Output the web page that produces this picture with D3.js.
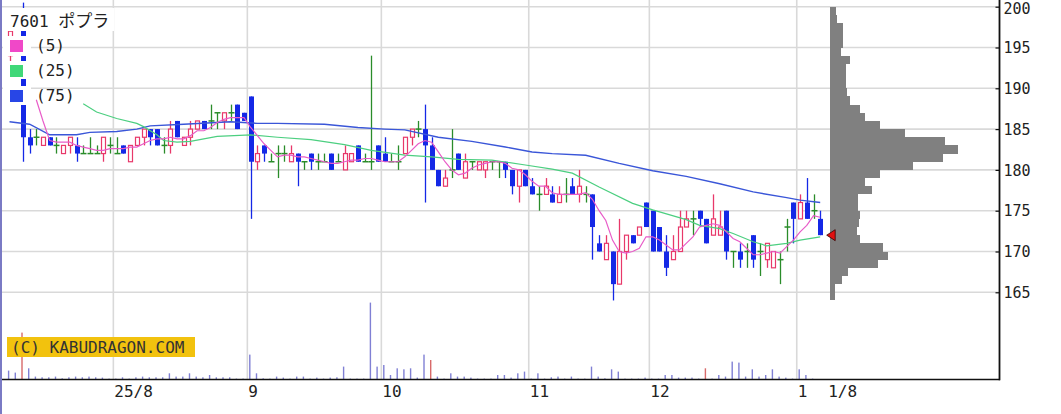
<!DOCTYPE html>
<html><head><meta charset="utf-8">
<script src="https://cdn.jsdelivr.net/npm/d3@7"></script>
<style>
html,body{margin:0;padding:0;background:#fff;}
svg{display:block;}
</style></head><body>
<svg id="chart" width="1061" height="414"></svg>
<script>
// ---------------- data ----------------
const dates = [
"2025-07-09","2025-07-10","2025-07-11","2025-07-14","2025-07-15","2025-07-16","2025-07-17","2025-07-18","2025-07-22","2025-07-23","2025-07-24","2025-07-25","2025-07-28","2025-07-29","2025-07-30","2025-07-31",
"2025-08-01","2025-08-04","2025-08-05","2025-08-06","2025-08-07","2025-08-08","2025-08-12","2025-08-13","2025-08-14","2025-08-15","2025-08-18","2025-08-19","2025-08-20","2025-08-21","2025-08-22","2025-08-25","2025-08-26","2025-08-27","2025-08-28","2025-08-29",
"2025-09-01","2025-09-02","2025-09-03","2025-09-04","2025-09-05","2025-09-08","2025-09-09","2025-09-10","2025-09-11","2025-09-12","2025-09-16","2025-09-17","2025-09-18","2025-09-19","2025-09-22","2025-09-24","2025-09-25","2025-09-26","2025-09-29","2025-09-30",
"2025-10-01","2025-10-02","2025-10-03","2025-10-06","2025-10-07","2025-10-08","2025-10-09","2025-10-10","2025-10-14","2025-10-15","2025-10-16","2025-10-17","2025-10-20","2025-10-21","2025-10-22","2025-10-23","2025-10-24","2025-10-27","2025-10-28","2025-10-29","2025-10-30","2025-10-31",
"2025-11-04","2025-11-05","2025-11-06","2025-11-07","2025-11-10","2025-11-11","2025-11-12","2025-11-13","2025-11-14","2025-11-17","2025-11-18","2025-11-19","2025-11-20","2025-11-21","2025-11-25","2025-11-26","2025-11-27","2025-11-28",
"2025-12-01","2025-12-02","2025-12-03","2025-12-04","2025-12-05","2025-12-08","2025-12-09","2025-12-10","2025-12-11","2025-12-12","2025-12-15","2025-12-16","2025-12-17","2025-12-18","2025-12-19","2025-12-22","2025-12-23","2025-12-24","2025-12-25","2025-12-26","2025-12-29","2025-12-30",
"2026-01-05","2026-01-06","2026-01-07","2026-01-08"];

const openP = [
194,196,198,184,184,183,184,183,182,183,183,182,182,182,182,183,
182,183,181,183,184,185,185,183,183,186,183,184,185,186,186,187,186,187,188,187,
189,181,183,181,182,182,181,182,181,182,181,181,182,181,180,181,183,181,181,183,
182,181,181,182,184,185,185,183,180,178,180,182,179,181,180,180,181,181,181,180,178,180,
178,177,177,177,176,177,178,177,177,177,171,169,170,166,170,172,172,176,
175,173,170,169,170,173,174,175,174,172,172,175,170,170,170,172,170,169,168,169,173,176,
174,176,175,174];
const highP = [
198,196,200.5,185,185,184,184,184,183,184,184,183,184,183,184,184,
184,183,183,184,185,185,185,184,186,186,184,186,186,186,188,187,187,188,188,187,
189,183,183,182,183,183,183,182,181,182,182,182,182,182,183,182,183,182,194,183,
184,182,183,184,185,186,188,184,180,180,185,182,182,181,181,181,181,181,181,180,180,180,
179,178,179,178,178,179,179,180,178,177,172,172,170,174,172,172,173,176,
175,173,172,172,175,175,175,175,174,177,175,175,170,171,171,172,171,171,170,170,174,176,
177,179,177,175];
const lowP = [
193,194,181,182,183,183,183,182,182,182,181,182,182,182,181,182,
182,182,181,183,183,183,183,182,182,184,183,183,185,185,185,185,185,186,185,186,
174,180,181,181,179,181,181,178,180,180,180,181,180,181,180,181,181,181,180,181,
181,181,180,182,183,184,176,180,178,178,179,180,179,180,180,179,180,179,179,177,176,178,
177,175,177,176,176,176,177,176,176,169,170,169,164,166,169,171,172,173,
170,170,167,169,170,173,172,173,171,172,172,169,168,168,168,168,167,168,168,166,170,171,
174,174,174,172];
const closeP = [
197,195,184,183,184,184,183,183,183,184,182,182,182,182,184,183,
182,182,183,184,185,184,183,183,185,184,184,185,186,185,186,187,187,187,185,186,
181,182,182,181,182,182,182,181,181,181,181,181,180,181,182,182,181,181,181,181,
181,181,181,184,185,185,183,180,178,179,180,180,181,181,181,181,181,181,180,178,180,178,
177,177,178,176,177,177,177,178,177,173,170,171,166,170,172,171,173,173,
170,170,168,170,173,174,174,174,171,174,173,170,170,169,170,169,170,171,170,169,173,174,
176,174,175,172];
const volume = [
87,67,467,110,27,20,20,27,10,20,27,20,27,20,17,7,
7,20,7,20,27,20,20,20,60,27,27,60,27,20,43,20,20,20,7,7,
247,60,10,7,27,17,7,27,27,7,17,7,17,20,127,7,7,7,767,127,
143,43,110,100,110,17,247,193,27,7,60,27,27,17,7,7,7,43,43,17,60,77,
7,60,7,20,27,7,27,7,7,127,27,10,100,77,7,7,7,17,
7,7,43,43,17,17,17,7,110,7,43,27,177,167,27,100,27,43,100,27,17,7,
100,43,7,3];
const volumeAlertDates = ["2025-07-11","2025-10-10","2025-12-11"];

// moving averages (25 and 75 day), 5 day computed from closes
const ma25Dates = ["2025-07-25","2025-07-29","2025-08-01","2025-08-06","2025-08-07","2025-08-12","2025-08-13","2025-08-15","2025-08-19","2025-08-25","2025-09-01","2025-09-05","2025-09-12","2025-09-22","2025-09-29","2025-10-06","2025-10-10","2025-10-17","2025-10-24","2025-10-31","2025-11-07","2025-11-12","2025-11-18","2025-11-26","2025-12-01","2025-12-08","2025-12-10","2025-12-15","2025-12-17","2025-12-22","2025-12-24","2025-12-29","2026-01-05","2026-01-08"];
const ma25Values = [188.1,187.1,186.3,185.7,185.3,184.3,183.6,183.4,183.5,184.1,184.3,184.0,183.7,183.1,182.4,181.8,181.6,181.3,181.2,180.6,180.1,179.6,177.9,175.9,175.1,173.9,173.2,172.8,172.2,171.2,170.7,171.0,171.4,171.8];
const ma75Dates = ["2025-07-09","2025-07-14","2025-07-17","2025-07-24","2025-07-28","2025-08-01","2025-08-06","2025-08-08","2025-08-18","2025-08-27","2025-09-02","2025-09-05","2025-09-17","2025-09-25","2025-10-01","2025-10-06","2025-10-14","2025-10-21","2025-10-28","2025-11-04","2025-11-07","2025-11-14","2025-11-21","2025-12-01","2025-12-08","2025-12-15","2025-12-22","2025-12-29","2026-01-05","2026-01-08"];
const ma75Values = [185.9,185.6,184.3,184.3,184.6,184.7,185.0,185.4,185.6,185.9,185.7,185.7,185.6,185.2,185.0,184.9,184.0,183.5,182.8,182.2,182.0,181.8,180.8,179.9,179.2,178.3,177.3,176.6,176.3,176.0];

// price-by-volume profile (1-yen bins, lower bound)
const profilePrice = [164,165,166,167,168,169,170,171,172,173,174,175,176,177,178,179,180,181,182,183,184,185,186,187,188,189,190,191,192,193,194,195,196,197,198,199];
const profileVol = [50,50,120,180,480,580,530,300,270,290,300,280,280,420,350,500,830,1130,1280,1150,750,500,350,300,200,170,160,160,160,200,110,130,130,130,70,60];

const priceTicks = [165,170,175,180,185,190,195,200];
const monthLabels = ["25/8","9","10","11","12","1"];
const title = {code:"7601", name:"ポプラ"};
const maLegend = ["(5)","(25)","(75)"];
const copyright = "(C) KABUDRAGON.COM";

// ---------------- drawing ----------------
const svg = d3.select("#chart");
const L = 2, R = 999, T = 0, B = 380;
const mono = "'DejaVu Sans Mono', monospace";

const x = d3.scalePoint().domain(dates).range([9.5, 9.5 + 6.7 * (dates.length - 1)]);
const step = x.step();
const y = d3.scaleLinear().domain([165, 200]).range([292.3, 6.7]);
const yv = d3.scaleLinear().domain([0, 1000]).range([379.3, 279.3]);
const wp = d3.scaleLinear().domain([0, 1300]).range([0, 130]);

svg.append("rect").attr("width",1061).attr("height",414).attr("fill","#fff");

svg.append("defs").append("clipPath").attr("id","plotclip")
  .append("rect").attr("x",L).attr("y",T).attr("width",R-L).attr("height",B-T);

const grid = svg.append("g");
grid.selectAll("line.h").data(priceTicks).join("line")
  .attr("x1",L).attr("x2",R).attr("y1",d=>y(d)).attr("y2",d=>y(d))
  .attr("stroke","#d9d9d9").attr("stroke-width",1.6);

const monthStarts = dates.filter((d,i)=> i>0 && d.slice(0,7) !== dates[i-1].slice(0,7));
grid.selectAll("line.v").data(monthStarts).join("line")
  .attr("x1",d=>x(d)-step/2).attr("x2",d=>x(d)-step/2).attr("y1",T).attr("y2",B)
  .attr("stroke","#d9d9d9").attr("stroke-width",1.6);

const plot = svg.append("g").attr("clip-path","url(#plotclip)");

// volume
const rows = dates.map((d,i)=>({d, o:openP[i], h:highP[i], l:lowP[i], c:closeP[i], v:volume[i]}));
plot.append("g").selectAll("rect").data(rows).join("rect")
  .attr("x",r=>x(r.d)-1.6).attr("width",1.4)
  .attr("y",r=>yv(r.v)).attr("height",r=>yv(0)-yv(r.v))
  .attr("fill",r=> volumeAlertDates.includes(r.d) ? "#d86a6a" : "#8080d4");

// candles
const UP="#e8386a", DOWN="#1428e6", FLAT="#2a8c2a";
const cg = plot.append("g");
rows.forEach(r=>{
  const cx = Math.round(x(r.d)) + 0.5;
  const col = r.c > r.o ? UP : (r.c < r.o ? DOWN : FLAT);
  cg.append("line").attr("x1",cx).attr("x2",cx).attr("y1",y(r.h)).attr("y2",y(r.l))
    .attr("stroke",col).attr("stroke-width",1.3);
  if (r.c > r.o) {
    cg.append("rect").attr("x",cx-2).attr("width",4)
      .attr("y",y(r.c)).attr("height",Math.max(1,y(r.o)-y(r.c)))
      .attr("fill","#fff").attr("stroke",UP).attr("stroke-width",1.2);
  } else if (r.c < r.o) {
    cg.append("rect").attr("x",cx-2.5).attr("width",5)
      .attr("y",y(r.o)).attr("height",Math.max(1,y(r.c)-y(r.o)))
      .attr("fill",DOWN);
  } else {
    cg.append("line").attr("x1",cx-3).attr("x2",cx+3).attr("y1",y(r.c)).attr("y2",y(r.c))
      .attr("stroke",FLAT).attr("stroke-width",1.5);
  }
});

// moving averages
const ma5 = rows.map((r,i)=> i>=4 ? {d:r.d, v:d3.mean(closeP.slice(i-4,i+1))} : null).filter(Boolean);
const line = d3.line().x(p=>x(p.d)).y(p=>y(p.v));
plot.append("path").datum(ma75Dates.map((d,i)=>({d, v:ma75Values[i]})))
  .attr("d",line).attr("fill","none").attr("stroke","#3a56d8").attr("stroke-width",1.4);
plot.append("path").datum(ma25Dates.map((d,i)=>({d, v:ma25Values[i]})))
  .attr("d",line).attr("fill","none").attr("stroke","#4ccf80").attr("stroke-width",1.2);
plot.append("path").datum(ma5)
  .attr("d",line).attr("fill","none").attr("stroke","#e85cc8").attr("stroke-width",1.2);

// price-by-volume profile
const lastDate = dates[dates.length-1];
const px0 = x(lastDate) + 10;
plot.append("g").selectAll("rect").data(profilePrice).join("rect")
  .attr("x",px0).attr("y",(p)=>y(p+1)).attr("height",(p)=>y(p)-y(p+1))
  .attr("width",(p,i)=>wp(profileVol[i]))
  .attr("fill","#808080").attr("shape-rendering","crispEdges");

// last price marker
const lc = closeP[closeP.length-1];
const tx = x(lastDate) + 6.5;
svg.append("path")
  .attr("d",`M${tx},${y(lc)} L${tx+8.5},${y(lc)-5.5} L${tx+8.5},${y(lc)+5.5} Z`)
  .attr("fill","#e01010").attr("stroke","#300").attr("stroke-width",0.8);

// axes
svg.append("line").attr("x1",L).attr("x2",R+1).attr("y1",379.5).attr("y2",379.5)
  .attr("stroke","#111").attr("stroke-width",1.6);
svg.append("line").attr("x1",R+0.5).attr("x2",R+0.5).attr("y1",T).attr("y2",380.3)
  .attr("stroke","#111").attr("stroke-width",1.8);
svg.append("line").attr("x1",1).attr("x2",1).attr("y1",0).attr("y2",414)
  .attr("stroke","#7a7ac4").attr("stroke-width",2);

const ya = svg.append("g").attr("transform",`translate(${R+0.5},0)`)
  .call(d3.axisRight(y).tickValues(priceTicks).tickSizeInner(-4).tickSizeOuter(0).tickPadding(4).tickFormat(d3.format("d")));
ya.select(".domain").remove();
ya.selectAll("line").attr("stroke","#111").attr("stroke-width",1.2);
ya.selectAll("text").attr("font-family",mono).attr("font-size",15).attr("fill","#222")
  .attr("dy",(d)=> d===200 ? "0.42em" : "0.34em");

const xl = svg.append("g");
xl.selectAll("text.m").data(monthStarts).join("text")
  .attr("x",d=>x(d)-step/2+1).attr("y",397)
  .attr("font-family",mono).attr("font-size",16).attr("fill","#222")
  .text((d,i)=>monthLabels[i]);
const lastParts = lastDate.split("-");
xl.append("text").attr("x",x(lastDate)+8).attr("y",397)
  .attr("font-family",mono).attr("font-size",16).attr("fill","#222")
  .text(`${+lastParts[1]}/${+lastParts[2]}`);

// legend
const lg = svg.append("g");
lg.append("rect").attr("x",3).attr("y",8).attr("width",111).attr("height",23).attr("fill","#fff");
const legendColors = ["#f048c8","#40d878","#2846e6"];
const rowY = [36,61,86];
maLegend.forEach((t,i)=>{
  lg.append("rect").attr("x",3).attr("y",rowY[i]).attr("width",28).attr("height",i===0?20:18+ (i===2?1:0)).attr("fill","#fff");
  lg.append("rect").attr("x",10).attr("y",rowY[i]+4).attr("width",13).attr("height",12).attr("fill",legendColors[i]);
  lg.append("text").attr("x",36).attr("y",rowY[i]+15).attr("font-family",mono).attr("font-size",16).attr("fill","#222").text(t);
});
const tt = lg.append("text").attr("x",10).attr("y",27).attr("fill","#222");
tt.append("tspan").attr("font-family",mono).attr("font-size",16).text(title.code+" ");
tt.append("tspan").attr("font-family","'Noto Sans CJK JP'").attr("font-size",17).text(title.name);

// copyright
svg.append("rect").attr("x",7).attr("y",337).attr("width",188).attr("height",20).attr("fill","#f2c20e");
svg.append("text").attr("x",11).attr("y",352.5).attr("font-family",mono).attr("font-size",16)
  .attr("fill","#333").text(copyright);
</script>
</body></html>
